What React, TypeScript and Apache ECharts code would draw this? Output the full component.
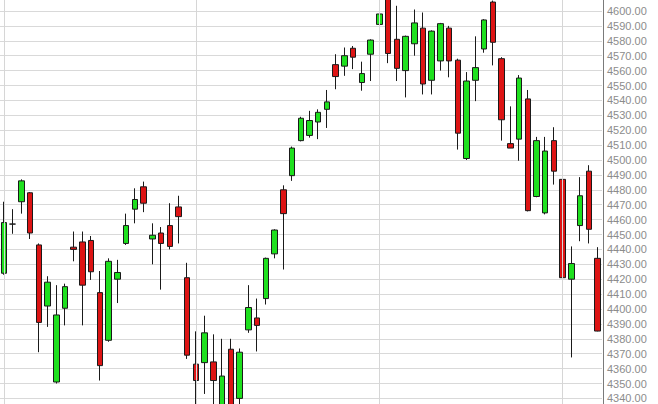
import React, { useEffect, useRef } from "react";
import * as echarts from "echarts";

const opens = [
  4424, 4457, 4472, 4478, 4443, 4402, 4351, 4400.5, 4441.5, 4445, 4446, 4411, 4379, 4420, 4444, 4467, 4482, 4447, 4451, 4456, 4468.5, 4421,
  4363, 4364, 4364.5, 4332, 4373, 4340, 4386, 4394, 4407, 4437, 4480, 4489.5, 4513, 4516.5, 4525.5, 4534, 4564, 4563, 4575, 4552, 4571,
  4591, 4612, 4581, 4560, 4578, 4588.5, 4553.5, 4566.5, 4588.5, 4567, 4501, 4553.5, 4574.5, 4606, 4568, 4511, 4514, 4541, 4475.5, 4464.5, 4513,
  4487, 4420, 4456, 4492.5, 4434,
];
const closes = [
  4458, 4457, 4486, 4451, 4391, 4418, 4396, 4415, 4440, 4416, 4425, 4362, 4432, 4424.5, 4456, 4473.5, 4471, 4449.5, 4444, 4442, 4462, 4369,
  4352, 4384, 4352, 4355, 4330, 4371, 4401, 4389, 4434, 4453, 4464, 4508, 4528, 4526.5, 4532, 4539, 4556, 4570, 4569, 4558, 4580.5,
  4598, 4571.5, 4561.5, 4583, 4592, 4551, 4586.5, 4591.5, 4566.5, 4518, 4553, 4562, 4594, 4579, 4527, 4508, 4555, 4466, 4513, 4506, 4492.5,
  4421, 4430.5, 4476, 4453.5, 4385.2,
];
const lows = [
  4423, 4450.5, 4464, 4447, 4371, 4388, 4350, 4389, 4432, 4389, 4419.5, 4352, 4378, 4404, 4443, 4457.5, 4465, 4430, 4413, 4440, 4444, 4366.5,
  4330, 4343, 4330, 4325, 4322, 4332, 4384, 4371.5, 4403, 4434, 4426.5, 4486, 4512.5, 4515, 4514, 4521.5, 4547.5, 4556.5, 4561, 4546.5, 4553,
  4577, 4565, 4553, 4542, 4570, 4544, 4544, 4560, 4555.5, 4507, 4500, 4539.5, 4572, 4563.5, 4513, 4508, 4499.5, 4465.5, 4475, 4463.5, 4483.5,
  4409, 4367.5, 4445.5, 4444, 4385,
];
const highs = [
  4472, 4467, 4487, 4478.5, 4444, 4422, 4416, 4417, 4452, 4452, 4449, 4425.5, 4434, 4433, 4464, 4481, 4485.5, 4457.5, 4455, 4471, 4476, 4431,
  4385, 4395.5, 4383, 4380, 4380, 4373.5, 4416, 4407, 4434.5, 4453.5, 4483, 4509, 4529, 4533, 4534, 4547, 4571, 4575.5, 4576.5, 4566, 4581,
  4599, 4616, 4603.5, 4583.5, 4601, 4599, 4587, 4592, 4590, 4568, 4559, 4583, 4594.5, 4607, 4569, 4536, 4557, 4547, 4515.5, 4515.5, 4522,
  4487.5, 4442, 4488.5, 4496.5, 4441.5,
];
const days = opens.map((_, i) => `Day ${i + 1}`);
const monthStarts = [0, 22, 43, 64];
const lastPrice = 4385.2;
const yMin = 4330;
const yMax = 4610;
const yStep = 10;

export default function App() {
  const ref = useRef<HTMLDivElement>(null);
  useEffect(() => {
    const chart = echarts.init(ref.current!, null, { renderer: "svg" });
    const candles = opens.map((o, i) => [o, closes[i], lows[i], highs[i]]);
    chart.setOption({
      animation: false,
      backgroundColor: "#ffffff",
      grid: {
        left: -0.5,
        right: 56,
        top: -3.9,
        bottom: -9.3,
        containLabel: false,
        outerBoundsMode: "none",
      },
      xAxis: {
        type: "category",
        data: days,
        boundaryGap: true,
        axisLine: { show: false },
        axisTick: { show: false },
        axisLabel: { show: false },
        splitLine: { show: false },
      },
      yAxis: {
        type: "value",
        position: "right",
        min: yMin,
        max: yMax,
        interval: yStep,
        offset: 1,
        axisLine: { show: true, lineStyle: { color: "#7a7a7a", width: 1 } },
        axisTick: { show: false },
        axisLabel: {
          color: "#8c8c8c",
          fontSize: 11,
          margin: 4,
          fontFamily: "Liberation Sans, Arial, sans-serif",
          formatter: (v: number) => v.toFixed(2),
        },
        splitLine: { show: true, lineStyle: { color: "#d9d9d9", width: 1 } },
      },
      series: [
        {
          type: "line",
          data: [],
          z: 1,
          silent: true,
          markLine: {
            silent: true,
            symbol: ["none", "none"],
            label: { show: false },
            lineStyle: { color: "#d6d6d6", width: 1, type: "solid" },
            data: monthStarts.map((i) => ({ xAxis: days[i] })),
          },
        },
        {
          type: "candlestick",
          z: 3,
          barWidth: 6,
          data: candles,
          itemStyle: {
            color: "#1ee01e",
            color0: "#dd1414",
            borderColor: "#1a1a1a",
            borderColor0: "#1a1a1a",
            borderColorDoji: "#1a1a1a",
            borderWidth: 1,
          },
          markLine: {
            silent: true,
            symbol: ["none", "none"],
            data: [
              {
                yAxis: lastPrice,
                lineStyle: { opacity: 0 },
                label: {
                  show: true,
                  position: "end",
                  distance: 3,
                  formatter: lastPrice.toFixed(2),
                  backgroundColor: "#e8141a",
                  color: "#ffffff",
                  fontSize: 11,
                  lineHeight: 11,
                  padding: [1, 12, 0, 3],
                  fontFamily: "Liberation Sans, Arial, sans-serif",
                },
              },
            ],
          },
        },
      ],
    });
    return () => chart.dispose();
  }, []);
  return <div ref={ref} style={{ position: "fixed", left: 0, top: 0, width: 658, height: 404 }} />;
}
